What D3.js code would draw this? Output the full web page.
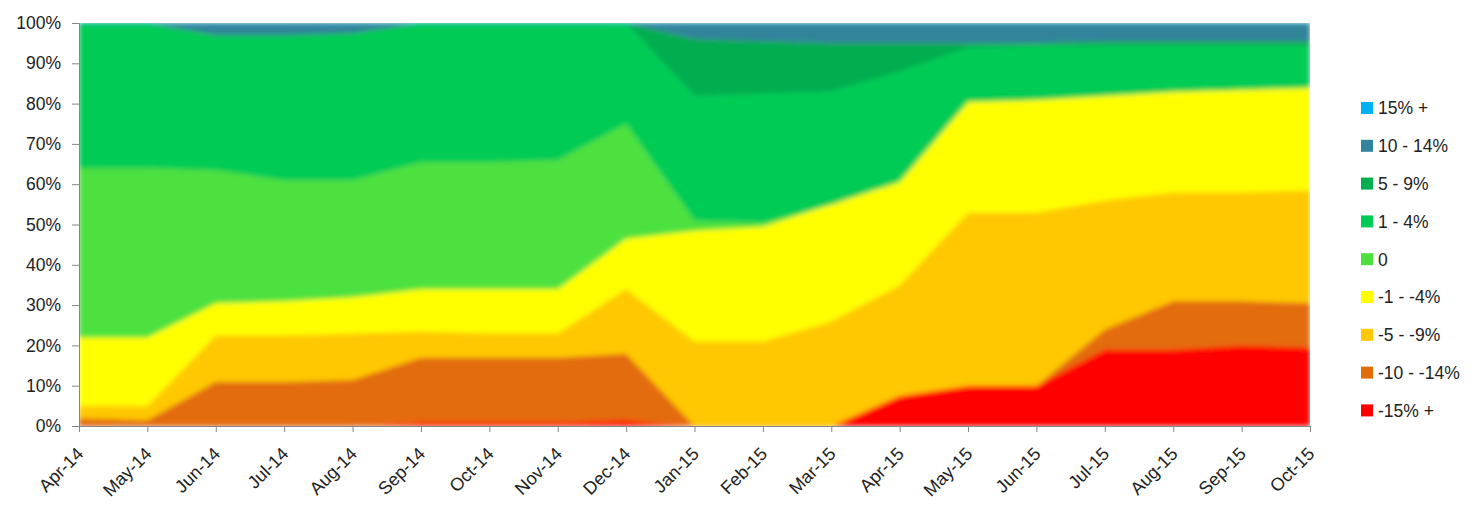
<!DOCTYPE html>
<html><head><meta charset="utf-8">
<script src="https://cdn.jsdelivr.net/npm/d3@7"></script>
<style>
html,body{margin:0;padding:0;background:#fff;}
svg{display:block;font-family:"Liberation Sans",Arial,sans-serif;}
</style></head>
<body>
<svg id="chart" width="1484" height="517"></svg>
<script>
const months = ["Apr-14","May-14","Jun-14","Jul-14","Aug-14","Sep-14","Oct-14","Nov-14","Dec-14","Jan-15","Feb-15","Mar-15","Apr-15","May-15","Jun-15","Jul-15","Aug-15","Sep-15","Oct-15"];
const seriesNames = ["-15% +","-10 - -14%","-5 - -9%","-1 - -4%","0","1 - 4%","5 - 9%","10 - 14%","15% +"];
const seriesColors = ["#FF0000","#E36C0A","#FFC800","#FFFF00","#4DE13F","#00CC55","#00AE50","#31849B","#00B0F0"];
const neg15 = [0,0,0,0,0,1,1,1,1.5,0,0,0,7.5,10,10,19,19,20,19.5];
const neg10 = [2,1.5,11,11,11.5,16,16,16,16.5,0,0,0,0,0,0,5,12,11,11];
const neg5  = [3,3.5,11.5,11.5,11.5,6.5,6,6,16,21,21,26,27.5,43,43,32,27,27,28];
const neg1  = [17,17,8,8.5,9,10.5,11,11,12.5,27.5,28.5,29,25.5,27.5,28,26,25,25.5,25.5];
const zero  = [42,42,33,30,29,31.5,31.5,32,28.5,2.5,1,0,0.5,0,0,0,0,0,0];
const pos1  = [36,36,33.5,36,36.5,34.5,34.5,34,25,31,32,28,27,13.5,13.5,12.5,11.5,11,10.5];
const pos5  = [0,0,0,0,0,0,0,0,0,14,13,12,7,1,0.5,1,1,1,1];
const pos10 = [0,0,3,3,2.5,0,0,0,0,4,4.5,5,5,5,5,4.5,4.5,4.5,4.5];
const pos15 = [0,0,0,0,0,0,0,0,0,0,0,0,0,0,0,0,0,0,0];
const yTicks = [0,10,20,30,40,50,60,70,80,90,100];

const seriesValues = [neg15,neg10,neg5,neg1,zero,pos1,pos5,pos10,pos15];
const table = months.map((m,i)=>{const o={month:m}; seriesNames.forEach((s,j)=>o[s]=seriesValues[j][i]); return o;});

const svg = d3.select("#chart");
const L=79, R=1310, T=23, B=426;
const x = d3.scalePoint().domain(months).range([L,R]);
const y = d3.scaleLinear().domain([0,100]).range([B,T]);

const stack = d3.stack().keys(seriesNames).offset(d3.stackOffsetExpand);
const layers = stack(table);

const defs = svg.append("defs");
defs.append("clipPath").attr("id","plotclip").append("rect")
  .attr("x",L).attr("y",T).attr("width",R-L).attr("height",B-T);
const f = defs.append("filter").attr("id","soft").attr("x","-5%").attr("y","-5%").attr("width","110%").attr("height","110%");
f.append("feGaussianBlur").attr("stdDeviation",2.8);

const area = d3.area().x(d=>x(d.data.month)).y0(d=>y(d[0]*100)).y1(d=>y(d[1]*100));
const outer = svg.append("g").attr("clip-path","url(#plotclip)");
const inner = outer.append("g").attr("filter","url(#soft)");
inner.selectAll("path").data(layers).join("path")
  .attr("d",area).attr("fill",(d,i)=>seriesColors[i]).attr("stroke",(d,i)=>seriesColors[i]).attr("stroke-width",0.5);

// y axis
const yAxis = d3.axisLeft(y).tickValues(yTicks).tickFormat(d=>d+"%").tickSize(7).tickPadding(11);
const gy = svg.append("g").attr("transform",`translate(${L},0)`).call(yAxis);
gy.select(".domain").attr("stroke","#868686");
gy.selectAll(".tick line").attr("stroke","#868686");
gy.selectAll("text").attr("font-size",17.5).attr("fill","#222").attr("font-family","Liberation Sans, Arial, sans-serif");

// x axis
const xAxis = d3.axisBottom(x).tickSize(6).tickSizeOuter(0);
const gx = svg.append("g").attr("transform",`translate(0,${B})`).call(xAxis);
gx.select(".domain").attr("stroke","#868686");
gx.selectAll(".tick line").attr("stroke","#868686");
gx.selectAll("text").attr("font-size",18).attr("fill","#222").attr("font-family","Liberation Sans, Arial, sans-serif")
  .attr("text-anchor","end").attr("y",0).attr("dy","0").attr("dx","0")
  .attr("transform","translate(5,29) rotate(-45)");

// legend
const legendOrder = seriesNames.slice().reverse();
const lg = svg.append("g").attr("transform","translate(1361,108)");
const item = lg.selectAll("g").data(legendOrder).join("g").attr("transform",(d,i)=>`translate(0,${i*37.8})`);
item.append("rect").attr("x",0).attr("y",-6).attr("width",12).attr("height",12)
  .attr("fill",d=>seriesColors[seriesNames.indexOf(d)]);
item.append("text").attr("x",17).attr("y",0).attr("dy","0.36em").attr("font-size",17.5).attr("fill","#222").text(d=>d);
</script>
</body></html>
